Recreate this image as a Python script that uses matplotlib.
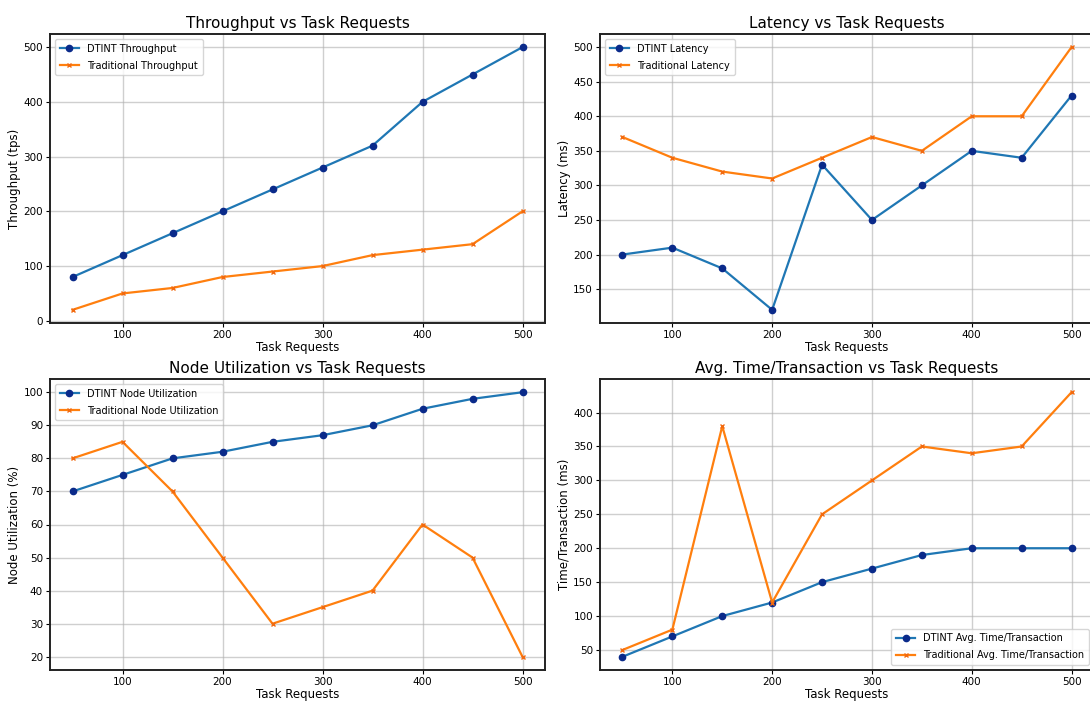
import matplotlib
matplotlib.use("Agg")
import matplotlib.pyplot as plt
from matplotlib.ticker import MultipleLocator

tasks = [50, 100, 150, 200, 250, 300, 350, 400, 450, 500]

dtint_throughput = [80, 120, 160, 200, 240, 280, 320, 400, 450, 500]
trad_throughput = [20, 50, 60, 80, 90, 100, 120, 130, 140, 200]

dtint_latency = [200, 210, 180, 120, 330, 250, 300, 350, 340, 430]
trad_latency = [370, 340, 320, 310, 340, 370, 350, 400, 400, 500]

dtint_util = [70, 75, 80, 82, 85, 87, 90, 95, 98, 100]
trad_util = [80, 85, 70, 50, 30, 35, 40, 60, 50, 20]

dtint_time = [40, 70, 100, 120, 150, 170, 190, 200, 200, 200]
trad_time = [50, 80, 380, 120, 250, 300, 350, 340, 350, 430]

panels = [
    ("Throughput vs Task Requests", "Throughput (tps)", dtint_throughput, trad_throughput,
     "DTINT Throughput", "Traditional Throughput", "upper left", 100),
    ("Latency vs Task Requests", "Latency (ms)", dtint_latency, trad_latency,
     "DTINT Latency", "Traditional Latency", "upper left", 50),
    ("Node Utilization vs Task Requests", "Node Utilization (%)", dtint_util, trad_util,
     "DTINT Node Utilization", "Traditional Node Utilization", "upper left", 10),
    ("Avg. Time/Transaction vs Task Requests", "Time/Transaction (ms)", dtint_time, trad_time,
     "DTINT Avg. Time/Transaction", "Traditional Avg. Time/Transaction", "lower right", 50),
]

W, H = 1090, 708
fig = plt.figure(figsize=(W / 100, H / 100), dpi=100)

# axes rectangles in pixel coords: left, top, right, bottom
rects = [
    (50, 34, 545, 323),
    (600, 34, 1094, 323),
    (50, 379, 545, 670),
    (600, 379, 1094, 670),
]

blue = "#1f77b4"
orange = "#ff7f0e"

for (title, ylabel, d1, d2, l1, l2, loc, step), (x0, y0, x1, y1) in zip(panels, rects):
    ax = fig.add_axes([x0 / W, 1 - y1 / H, (x1 - x0) / W, (y1 - y0) / H])
    ax.plot(tasks, d1, color=blue, marker="o", markersize=4.5, linewidth=1.6,
            markerfacecolor="#0a2a8a", markeredgecolor="#0a2a8a", label=l1)
    ax.plot(tasks, d2, color=orange, marker="x", markersize=3.5, linewidth=1.6,
            markeredgecolor="#f26a10", label=l2)
    ax.set_title(title, fontsize=11, pad=4)
    ax.set_xlabel("Task Requests", fontsize=8.5, labelpad=1)
    ax.set_ylabel(ylabel, fontsize=8.5, labelpad=2, fontweight="medium")
    ax.xaxis.set_major_locator(MultipleLocator(100))
    ax.yaxis.set_major_locator(MultipleLocator(step))
    ax.tick_params(labelsize=7.5, length=3, pad=2)
    ax.grid(True, color="#b0b0b0", alpha=0.6, linewidth=1.0)
    for s in ax.spines.values():
        s.set_linewidth(1.4)
        s.set_color("#222222")
    ax.legend(loc=loc, fontsize=7, handlelength=2, borderpad=0.5,
              labelspacing=0.7, framealpha=0.8)

fig.savefig("out.png", dpi=100)
